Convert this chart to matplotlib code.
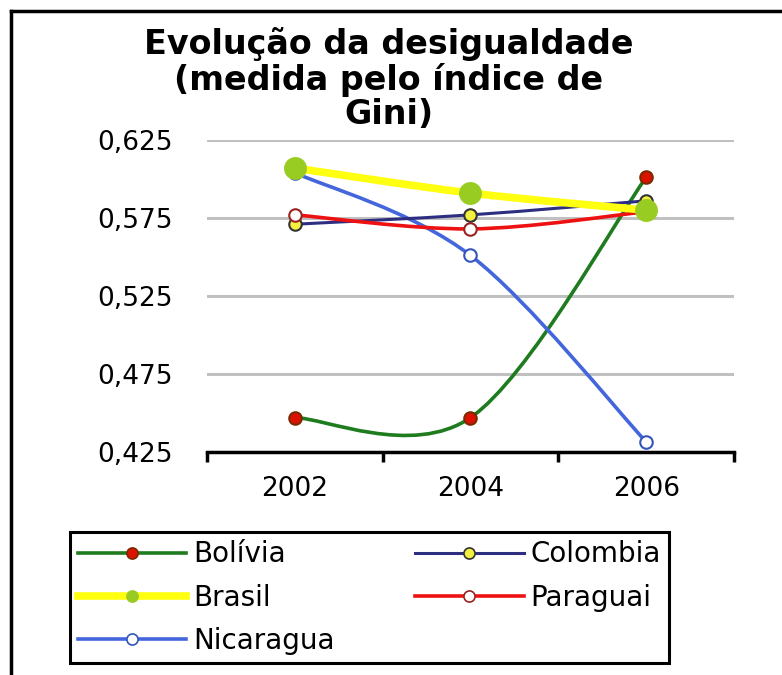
## gini_chart.py
# Import Packages
import numpy as np
import matplotlib
matplotlib.use('Agg')
import matplotlib.pyplot as plt
from matplotlib.path import Path
from matplotlib.patches import PathPatch
from matplotlib.lines import Line2D

# Chart data
years = ['2002', '2004', '2006']
bolivia = [0.447, 0.447, 0.601]
colombia = [0.571, 0.577, 0.586]
brasil = [0.607, 0.591, 0.580]
paraguai = [0.577, 0.568, 0.579]
nicaragua = [0.604, 0.551, 0.4315]
y_ticks = [0.425, 0.475, 0.525, 0.575, 0.625]
y_tick_labels = ['0,425', '0,475', '0,525', '0,575', '0,625']

title = 'Evolução da desigualdade\n(medida pelo índice de\nGini)'


def smooth_path(xs, ys):
    '''Excel style smoothed line: bezier segments through the points'''
    pts = np.column_stack([xs, ys]).astype(float)
    verts = [pts[0]]
    codes = [Path.MOVETO]
    n = len(pts)
    for i in range(n - 1):
        p_prev = pts[max(i - 1, 0)]
        p0 = pts[i]
        p1 = pts[i + 1]
        p_next = pts[min(i + 2, n - 1)]
        c1 = p0 + (p1 - p_prev) / 6.0
        c2 = p1 - (p_next - p0) / 6.0
        verts += [c1, c2, p1]
        codes += [Path.CURVE4] * 3
    return Path(verts, codes)


def main():
    fig = plt.figure(figsize=(7.82, 6.75), dpi=100)
    fig.patch.set_facecolor('white')
    ax = fig.add_axes([0.2647, 0.3304, 0.6739, 0.4622])

    x = np.arange(len(years))

    # series: (name, values, line colour, line width, marker face, marker edge, marker size)
    series = [
        ('Bolívia', bolivia, '#1e7b1e', 2.6, '#dd1100', '#7a2a00', 9),
        ('Colombia', colombia, '#2e2e80', 2.2, '#f4f040', '#333333', 9),
        ('Brasil', brasil, '#ffff10', 5.5, '#99cc22', '#99cc22', 15),
        ('Paraguai', paraguai, '#ee1111', 2.6, 'white', '#992222', 9),
        ('Nicaragua', nicaragua, '#4466dd', 2.6, 'white', '#3355bb', 9),
    ]

    handles = {}
    draw_order = ['Bolívia', 'Nicaragua', 'Colombia', 'Paraguai', 'Brasil']
    for z, name in enumerate(draw_order):
        s = [t for t in series if t[0] == name][0]
        _, vals, lc, lw, mfc, mec, ms = s
        patch = PathPatch(smooth_path(x, vals), facecolor='none', edgecolor=lc,
                          lw=lw, zorder=3 + z, capstyle='round', joinstyle='round')
        ax.add_patch(patch)
        ax.plot(x, vals, linestyle='none', marker='o', ms=ms, mfc=mfc,
                mec=mec, mew=1.5, zorder=3 + z, clip_on=False)
        handles[name] = Line2D([], [], color=lc, lw=lw, marker='o', ms=8,
                               mfc=mfc, mec=mec, mew=1.2)

    # Axes properties
    ax.set_xlim(-0.5, 2.5)
    ax.set_ylim(0.425, 0.625)
    ax.set_yticks(y_ticks)
    ax.set_yticklabels(y_tick_labels)
    ax.set_xticks([-0.5, 0.5, 1.5, 2.5])
    ax.set_xticklabels([])
    ax.set_xticks(x, minor=True)
    ax.set_xticklabels(years, minor=True)
    ax.tick_params(axis='x', which='major', direction='out', length=7, width=2.5,
                   color='black')
    ax.tick_params(axis='x', which='minor', length=0, pad=17, labelsize=19)
    ax.tick_params(axis='y', length=0, pad=25, labelsize=19)
    for lab in ax.get_xticklabels(minor=True) + ax.get_yticklabels():
        lab.set_fontfamily('DejaVu Sans')
    ax.yaxis.grid(True, color='#c0c0c0', lw=2.2)
    ax.set_axisbelow(True)
    for side in ['left', 'right', 'top']:
        ax.spines[side].set_visible(False)
    ax.spines['bottom'].set_linewidth(2.5)
    ax.spines['bottom'].set_zorder(10)

    # Title
    fig.text(0.497, 0.96, title, ha='center', va='top', fontsize=24,
             fontweight='bold', family='DejaVu Sans', linespacing=1.06)

    # Legend
    leg_order = ['Bolívia', 'Brasil', 'Nicaragua', 'Colombia', 'Paraguai']
    leg = fig.legend([handles[n] for n in leg_order], leg_order, ncol=2,
                     loc='upper left', bbox_to_anchor=(0.089, 0.212),
                     frameon=True, fancybox=False, edgecolor='black',
                     framealpha=1, prop={'family': 'DejaVu Sans', 'size': 20},
                     handlelength=3.9, handletextpad=0.25, columnspacing=2.9,
                     labelspacing=0.55, borderpad=0.3, borderaxespad=0)
    leg.get_frame().set_linewidth(2.2)

    # Outer frame (left and top edges only)
    fig.add_artist(Line2D([0.0141, 0.0141], [0.0, 0.984], color='black', lw=2.5,
                          transform=fig.transFigure))
    fig.add_artist(Line2D([0.0141, 1.0], [0.984, 0.984], color='black', lw=2.5,
                          transform=fig.transFigure))

    fig.savefig('out.png', dpi=100, facecolor='white')
    plt.close()


if __name__ == '__main__':
    main()
